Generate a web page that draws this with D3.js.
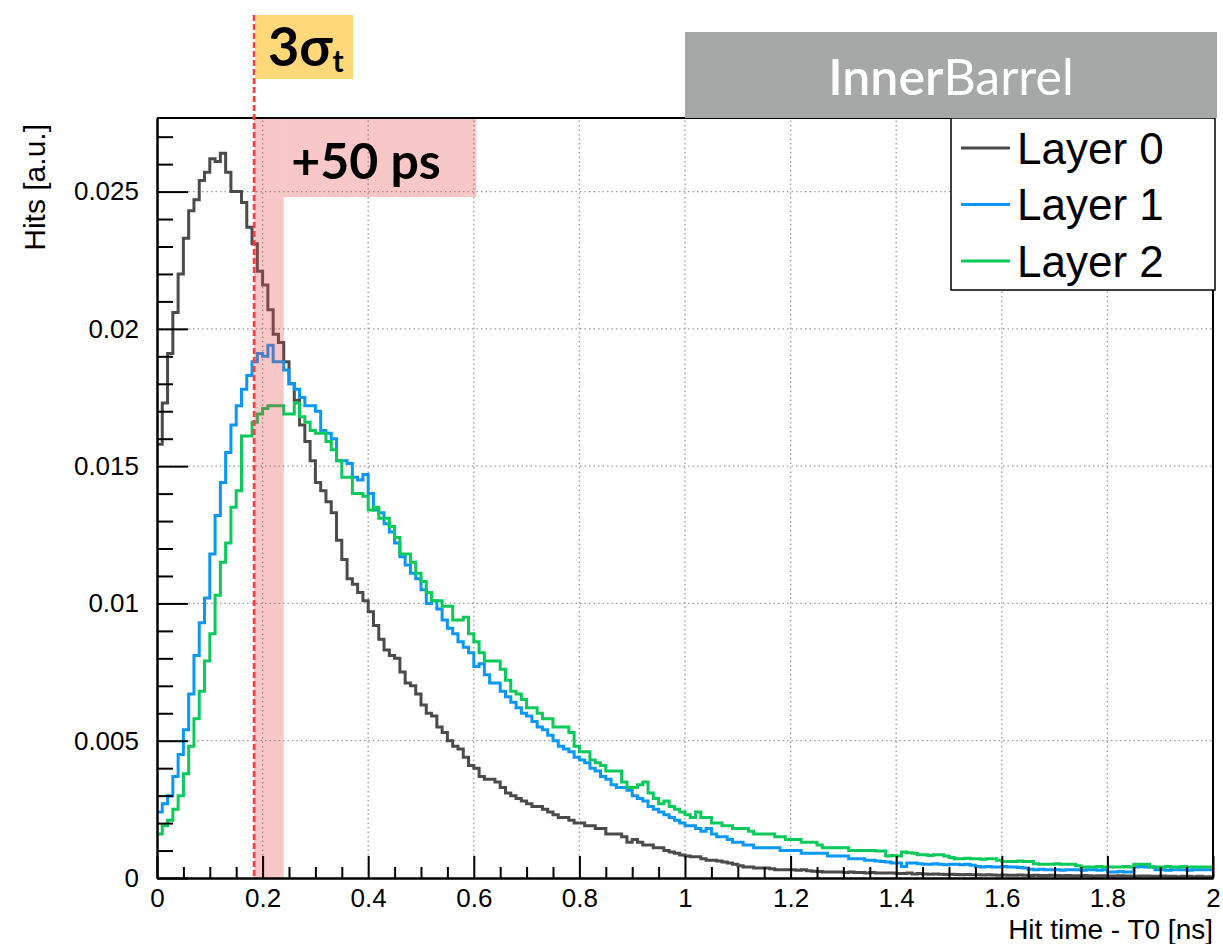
<!DOCTYPE html>
<html>
<head>
<meta charset="utf-8">
<script src="https://cdn.jsdelivr.net/npm/d3@7"></script>
<style>
  body { margin: 0; background: #fff; }
  svg { display: block; }
  text { font-family: "Liberation Sans", Arial, sans-serif; }
</style>
</head>
<body>
<div id="chart"></div>
<script>
const width = 1223, height = 944;
const margin = { left: 157, right: 10, top: 118, bottom: 66 };

// histogram: 200 bins of 0.01 ns, from 0 to 2 ns
const binWidth = 0.01;
const layerNames = ["Layer 0", "Layer 1", "Layer 2"];
const layerColors = ["#4b4b4b", "#0a98f8", "#0bc95a"];

const layer0 = [
  0.0158, 0.0173, 0.0191, 0.0206, 0.0220, 0.0233, 0.0243, 0.0247, 0.0254, 0.0257,
  0.0262, 0.0261, 0.0264, 0.0257, 0.0250, 0.0250, 0.0246, 0.0237, 0.0231, 0.0221,
  0.0216, 0.0207, 0.0198, 0.0195, 0.0188, 0.0180, 0.0174, 0.0165, 0.0159, 0.0152,
  0.0144, 0.0141, 0.0137, 0.0133, 0.0123, 0.0116, 0.0109, 0.0107, 0.0104, 0.0101,
  0.0097, 0.0092, 0.0087, 0.0083, 0.0081, 0.0080, 0.0075, 0.0071, 0.0070, 0.0067,
  0.0063, 0.0060, 0.0059, 0.0055, 0.0053, 0.0050, 0.0048, 0.0047, 0.0044, 0.0041,
  0.0040, 0.0037, 0.0036, 0.0036, 0.0035, 0.0033, 0.0031, 0.0030, 0.0029, 0.0028,
  0.0027, 0.0026, 0.0026, 0.0025, 0.0024, 0.0023, 0.0022, 0.0022, 0.0021, 0.0020,
  0.0020, 0.0019, 0.0019, 0.0018, 0.0018, 0.0016, 0.0016, 0.0016, 0.0015, 0.0013,
  0.0014, 0.0013, 0.0012, 0.0012, 0.0011, 0.0011, 0.0010, 0.00095, 0.0009, 0.00084,
  0.0008, 0.00077, 0.00077, 0.0007, 0.00065, 0.00065, 0.00062, 0.00058, 0.00055, 0.0005,
  0.00045, 0.0004, 0.0004, 0.00036, 0.00036, 0.00036, 0.00034, 0.0003, 0.0003, 0.0003,
  0.0003, 0.00028, 0.0003, 0.00026, 0.00025, 0.00024, 0.00022, 0.00022, 0.00022, 0.00022,
  0.0002, 0.00022, 0.0002, 0.0002, 0.00018, 0.0002, 0.00018, 0.00018, 0.00018, 0.00018,
  0.00016, 0.00016, 0.00018, 0.00015, 0.00016, 0.00015, 0.00014, 0.00015, 0.00014, 0.00013,
  0.00014, 0.00013, 0.00012, 0.00013, 0.00012, 0.00012, 0.00011, 0.00012, 0.00011, 0.0001,
  0.00011, 0.0001, 0.0001, 0.00011, 0.0001, 0.00009, 0.0001, 0.00009, 0.00009, 0.0001,
  0.00009, 0.00008, 0.00009, 0.00008, 0.00008, 0.00009, 0.00008, 0.00007, 0.00008, 0.00008,
  0.00007, 0.00007, 0.00008, 0.00007, 0.00007, 0.00006, 0.00007, 0.00007, 0.00006, 0.00006,
  0.00007, 0.00006, 0.00006, 0.00005, 0.00006, 0.00006, 0.00005, 0.00006, 0.00005, 0.00005
];

const layer1 = [
  0.0024, 0.0027, 0.0030, 0.0037, 0.0045, 0.0054, 0.0067, 0.0081, 0.0093, 0.0102,
  0.0118, 0.0132, 0.0144, 0.0155, 0.0165, 0.0172, 0.0178, 0.0183, 0.0188, 0.0191,
  0.0190, 0.0194, 0.0188, 0.0188, 0.0185, 0.0180, 0.0178, 0.0175, 0.0172, 0.0172,
  0.0170, 0.0163, 0.0162, 0.0160, 0.0152, 0.0152, 0.0151, 0.0146, 0.0145, 0.0147,
  0.0140, 0.0134, 0.0133, 0.0129, 0.0126, 0.0122, 0.0117, 0.0114, 0.0111, 0.0109,
  0.0105, 0.0100, 0.0101, 0.0098, 0.0094, 0.0091, 0.0089, 0.0086, 0.0084, 0.0082,
  0.0077, 0.0078, 0.0074, 0.0071, 0.0071, 0.0068, 0.0066, 0.0064, 0.0062, 0.0060,
  0.0059, 0.0057, 0.0055, 0.0054, 0.0052, 0.0050, 0.0048, 0.0047, 0.0046, 0.0044,
  0.0043, 0.0042, 0.0040, 0.0039, 0.0037, 0.0036, 0.0034, 0.0033, 0.0033, 0.0032,
  0.0030, 0.0029, 0.0028, 0.0026, 0.0025, 0.0024, 0.0023, 0.0022, 0.0021, 0.0020,
  0.0019, 0.0019, 0.0018, 0.0017, 0.0018, 0.0016, 0.0015, 0.0015, 0.0014, 0.0013,
  0.0013, 0.0012, 0.0012, 0.0011, 0.0011, 0.0011, 0.0011, 0.0011, 0.0010, 0.0010,
  0.0010, 0.0010, 0.0009, 0.0009, 0.0009, 0.0009, 0.0009, 0.0008, 0.0008, 0.0008,
  0.0008, 0.0007, 0.0007, 0.0007, 0.00065, 0.00065, 0.00062, 0.0006, 0.00058, 0.00055,
  0.00055, 0.00042, 0.00055, 0.00055, 0.00052, 0.0005, 0.0005, 0.00052, 0.0005, 0.00048,
  0.0005, 0.0005, 0.00048, 0.0005, 0.00046, 0.00042, 0.0004, 0.00042, 0.0004, 0.0004,
  0.00042, 0.0004, 0.0004, 0.00038, 0.00036, 0.00032, 0.0003, 0.00032, 0.0003, 0.0003,
  0.0003, 0.00028, 0.0003, 0.0003, 0.0003, 0.00028, 0.0003, 0.0003, 0.00028, 0.0003,
  0.00022, 0.00022, 0.00024, 0.00022, 0.00022, 0.0004, 0.00042, 0.0004, 0.0004, 0.0003,
  0.0003, 0.00028, 0.0003, 0.0003, 0.0003, 0.00028, 0.0003, 0.0003, 0.0003, 0.0003
];

const layer2 = [
  0.0016, 0.0019, 0.0021, 0.0025, 0.0030, 0.0038, 0.0048, 0.0058, 0.0068, 0.0079,
  0.0089, 0.0103, 0.0115, 0.0122, 0.0135, 0.0141, 0.0161, 0.0161, 0.0166, 0.0169,
  0.0171, 0.0172, 0.0172, 0.0172, 0.0169, 0.0169, 0.0173, 0.0168, 0.0166, 0.0163,
  0.0162, 0.0162, 0.0159, 0.0156, 0.0152, 0.0146, 0.0146, 0.0140, 0.0140, 0.0139,
  0.0134, 0.0135, 0.0131, 0.0131, 0.0128, 0.0124, 0.0118, 0.0118, 0.0115, 0.0111,
  0.0108, 0.0104, 0.0101, 0.0101, 0.0099, 0.0099, 0.0094, 0.0094, 0.0095, 0.0089,
  0.0086, 0.0082, 0.0079, 0.0079, 0.0079, 0.0076, 0.0072, 0.0068, 0.0067, 0.0065,
  0.0062, 0.0062, 0.0060, 0.0058, 0.0058, 0.0055, 0.0055, 0.0055, 0.0053, 0.0048,
  0.0046, 0.0046, 0.0043, 0.0042, 0.0041, 0.0039, 0.0039, 0.0039, 0.0035, 0.0033,
  0.0033, 0.0034, 0.0035, 0.0031, 0.0029, 0.0027, 0.0028, 0.0026, 0.0025, 0.0024,
  0.0023, 0.0022, 0.0024, 0.0022, 0.0022, 0.0020, 0.0020, 0.0019, 0.0019, 0.0018,
  0.0018, 0.0018, 0.0017, 0.0016, 0.0016, 0.0016, 0.0016, 0.0015, 0.0015, 0.0014,
  0.0014, 0.0014, 0.0013, 0.0013, 0.0013, 0.0012, 0.0011, 0.0011, 0.0011, 0.0011,
  0.0011, 0.0010, 0.0010, 0.0010, 0.0010, 0.0010, 0.00098, 0.00098, 0.0008, 0.00082,
  0.0008, 0.00095, 0.00092, 0.0009, 0.00085, 0.00085, 0.00082, 0.00085, 0.00085, 0.0008,
  0.00075, 0.0007, 0.0007, 0.00072, 0.0007, 0.0007, 0.00068, 0.0007, 0.0007, 0.00065,
  0.0006, 0.0006, 0.0006, 0.00062, 0.0006, 0.0006, 0.00052, 0.0005, 0.0005, 0.0005,
  0.00052, 0.0005, 0.0005, 0.0005, 0.00045, 0.0004, 0.0004, 0.0004, 0.00042, 0.0004,
  0.0004, 0.0004, 0.0004, 0.00042, 0.0004, 0.0005, 0.0005, 0.0005, 0.0004, 0.0004,
  0.0004, 0.00042, 0.0004, 0.0004, 0.00042, 0.0004, 0.0004, 0.0004, 0.0004, 0.0004
];

const xTicks = [0, 0.2, 0.4, 0.6, 0.8, 1, 1.2, 1.4, 1.6, 1.8, 2];
const xTickLabels = ["0", "0.2", "0.4", "0.6", "0.8", "1", "1.2", "1.4", "1.6", "1.8", "2"];
const yTicks = [0, 0.005, 0.01, 0.015, 0.02, 0.025];
const yTickLabels = ["0", "0.005", "0.01", "0.015", "0.02", "0.025"];

// annotations (in data units)
const sigmaCut = 0.184;       // 3 sigma_t line
const shiftEnd = 0.24;        // +50 ps band
const bannerEnd = 0.605;
const bannerBottom = 0.0248;

const x = d3.scaleLinear().domain([0, 2]).range([margin.left, width - margin.right]);
const y = d3.scaleLinear().domain([0, 0.02768]).range([height - margin.bottom, margin.top]);

const svg = d3.select("#chart")
  .append("svg")
    .attr("width", width)
    .attr("height", height);

// grid
const grid = svg.append("g")
  .attr("stroke", "#9a9a9a")
  .attr("stroke-width", 1.3)
  .attr("stroke-dasharray", "1.5,3");
grid.selectAll(".gx")
  .data(xTicks.slice(1, -1))
  .join("line")
    .attr("x1", d => x(d)).attr("x2", d => x(d))
    .attr("y1", y.range()[0]).attr("y2", y.range()[1]);
grid.selectAll(".gy")
  .data(yTicks.slice(1))
  .join("line")
    .attr("x1", x.range()[0]).attr("x2", x.range()[1])
    .attr("y1", d => y(d)).attr("y2", d => y(d));

// histograms
const layers = [layer0, layer1, layer2];

const stepLine = d3.line()
  .x(d => x(d[0]))
  .y(d => y(d[1]))
  .curve(d3.curveStepAfter);

layers.forEach((values, i) => {
  const pts = values.map((v, k) => [k * binWidth, v]);
  pts.push([values.length * binWidth, values[values.length - 1]]);
  svg.append("path")
    .attr("d", stepLine(pts))
    .attr("fill", "none")
    .attr("stroke", layerColors[i])
    .attr("stroke-width", 3)
    .attr("stroke-linejoin", "miter");
});

// +50 ps band (semi transparent, over the curves)
const band = svg.append("g")
  .attr("fill", "#e8474a")
  .attr("fill-opacity", 0.3);
band.append("rect")
  .attr("x", x(sigmaCut))
  .attr("y", y.range()[1])
  .attr("width", x(shiftEnd) - x(sigmaCut))
  .attr("height", y.range()[0] - y.range()[1]);
band.append("rect")
  .attr("x", x(shiftEnd))
  .attr("y", y.range()[1])
  .attr("width", x(bannerEnd) - x(shiftEnd))
  .attr("height", y(bannerBottom) - y.range()[1]);

// axes
const xAxis = d3.axisBottom(x)
  .tickValues(xTicks)
  .tickFormat((d, i) => xTickLabels[i])
  .tickSize(-22)
  .tickSizeOuter(0)
  .tickPadding(11);
const xMinor = d3.axisBottom(x)
  .tickValues(d3.range(0, 41).map(k => k * 0.05).filter(v => !xTicks.some(t => Math.abs(t - v) < 1e-9)))
  .tickFormat("")
  .tickSize(-11)
  .tickSizeOuter(0);
const yAxis = d3.axisLeft(y)
  .tickValues(yTicks)
  .tickFormat((d, i) => yTickLabels[i])
  .tickSize(-31)
  .tickSizeOuter(0)
  .tickPadding(18);
const yMinor = d3.axisLeft(y)
  .tickValues(d3.range(0, 28).map(k => k * 0.001).filter(v => !yTicks.some(t => Math.abs(t - v) < 1e-9)))
  .tickFormat("")
  .tickSize(-16)
  .tickSizeOuter(0);

const styleAxis = g => {
  g.selectAll("path, line").attr("stroke", "#000").attr("stroke-width", 2);
  g.selectAll("text").attr("fill", "#000").style("font-size", "26px")
    .style("font-family", "'Liberation Sans', Arial, sans-serif");
};

svg.append("g").attr("transform", `translate(0,${y.range()[0]})`).call(xMinor).call(styleAxis);
svg.append("g").attr("transform", `translate(0,${y.range()[0]})`).call(xAxis).call(styleAxis);
svg.append("g").attr("transform", `translate(${x.range()[0]},0)`).call(yMinor).call(styleAxis);
svg.append("g").attr("transform", `translate(${x.range()[0]},0)`).call(yAxis).call(styleAxis);

// frame top / right
svg.append("path")
  .attr("d", `M${x.range()[0]},${y.range()[1]}H${x.range()[1]}V${y.range()[0]}`)
  .attr("fill", "none")
  .attr("stroke", "#000")
  .attr("stroke-width", 2);

// axis titles
svg.append("text")
  .attr("x", x.range()[1])
  .attr("y", 939)
  .attr("text-anchor", "end")
  .style("font-size", "28px")
  .text("Hit time - T0 [ns]");
svg.append("text")
  .attr("transform", `translate(45,${y.range()[1] + 6}) rotate(-90)`)
  .attr("text-anchor", "end")
  .style("font-size", "30px")
  .text("Hits [a.u.]");

// 3 sigma line
svg.append("line")
  .attr("x1", x(sigmaCut)).attr("x2", x(sigmaCut))
  .attr("y1", 15).attr("y2", y.range()[0])
  .attr("stroke", "#f04444")
  .attr("stroke-width", 2.8)
  .attr("stroke-dasharray", "6,3");

// legend
const legend = svg.append("g").attr("transform", "translate(951,118)");
legend.append("rect")
  .attr("width", 264).attr("height", 172)
  .attr("fill", "#fff")
  .attr("stroke", "#000")
  .attr("stroke-width", 1.5);
const items = legend.selectAll(".item")
  .data(layerNames)
  .join("g")
    .attr("transform", (d, i) => `translate(0,${30 + i * 56.5})`);
items.append("line")
  .attr("x1", 10).attr("x2", 59)
  .attr("stroke", (d, i) => layerColors[i])
  .attr("stroke-width", 3);
items.append("text")
  .attr("x", 66)
  .attr("dy", "0.36em")
  .style("font-size", "44px")
  .attr("fill", "#000")
  .text(d => d);

// title box
svg.append("rect")
  .attr("x", 685).attr("y", 32)
  .attr("width", 532).attr("height", 86)
  .attr("fill", "#a5a8a7");
const title = svg.append("text")
  .attr("x", 951).attr("y", 95)
  .attr("text-anchor", "middle")
  .attr("fill", "#fff")
  .style("font-family", "Lato, 'Open Sans', sans-serif")
  .style("font-size", "50px");
title.append("tspan").style("font-weight", 600).text("Inner");
title.append("tspan").style("font-weight", 400).text("Barrel");

// 3 sigma label
svg.append("rect")
  .attr("x", x(sigmaCut) + 1).attr("y", 15)
  .attr("width", 98).attr("height", 64)
  .attr("fill", "#ffd87a");
const sig = svg.append("text")
  .attr("x", 268).attr("y", 66)
  .style("font-family", "Lato, 'Open Sans', sans-serif")
  .style("font-weight", 700)
  .style("font-size", "54px")
  .attr("fill", "#000");
sig.append("tspan").text("3σ");
sig.append("tspan").attr("dy", 6).style("font-size", "30px").text("t");

// +50 ps label
svg.append("text")
  .attr("x", 366).attr("y", 179)
  .attr("text-anchor", "middle")
  .style("font-family", "Lato, 'Open Sans', sans-serif")
  .style("font-weight", 700)
  .style("font-size", "50px")
  .attr("fill", "#000")
  .text("+50 ps");
</script>
</body>
</html>
